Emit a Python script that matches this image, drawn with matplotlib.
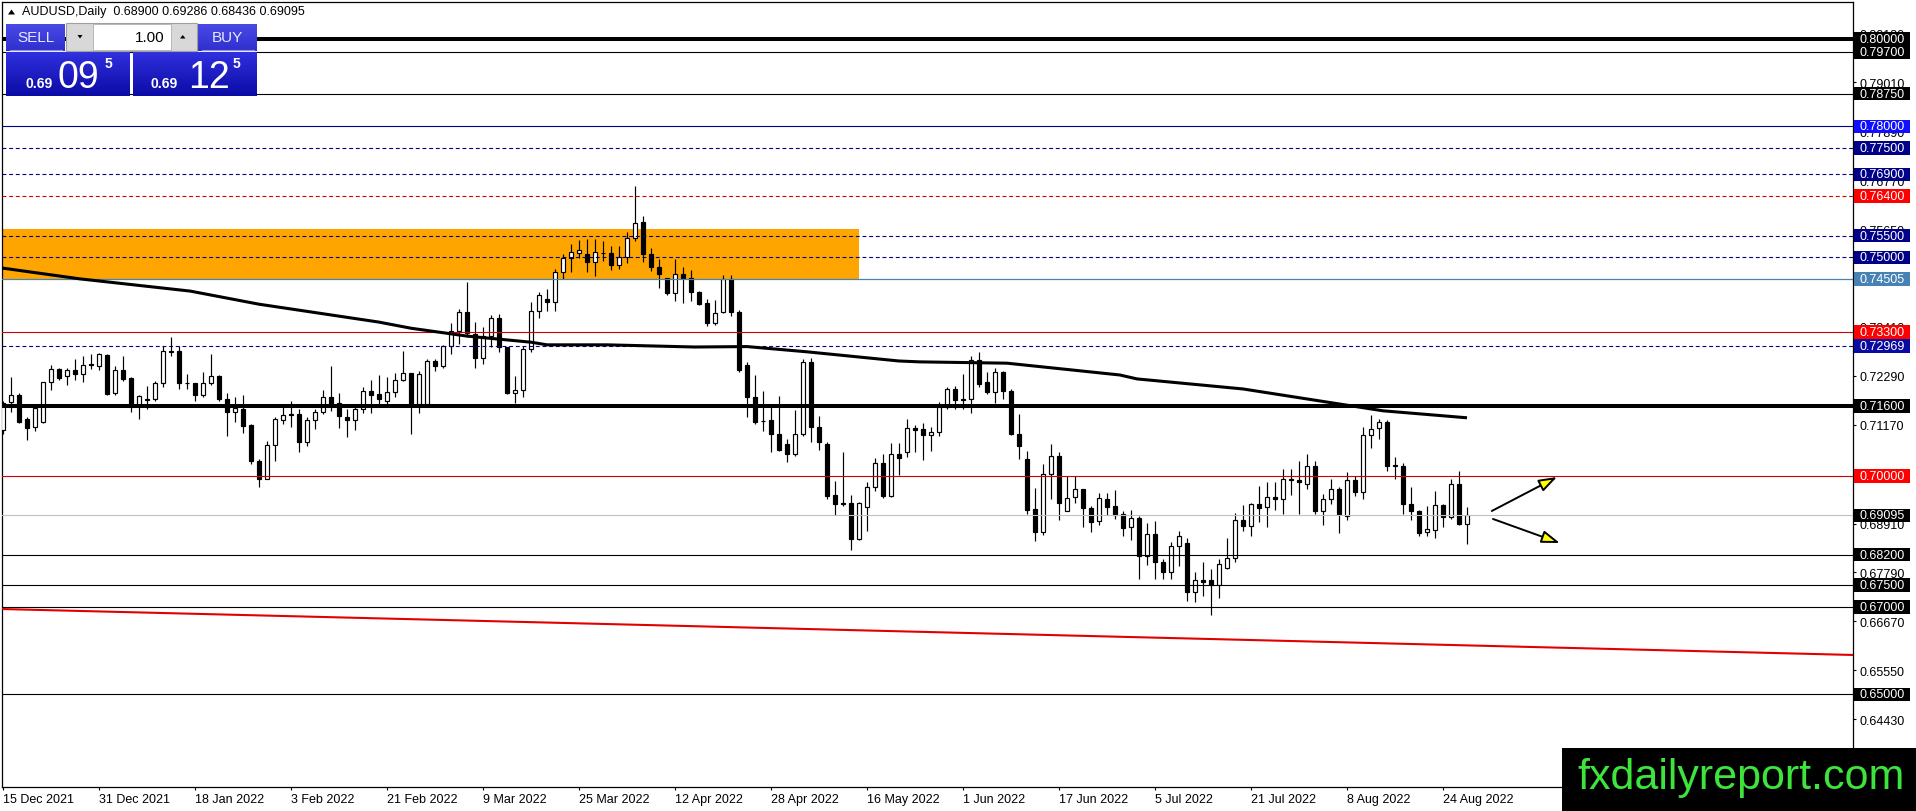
import matplotlib
matplotlib.use('Agg')
import matplotlib.pyplot as plt
import matplotlib.colors as mcolors
from matplotlib.patches import Rectangle, Polygon
from matplotlib.transforms import blended_transform_factory
import numpy as np

plt.rcParams['font.family'] = ['Liberation Sans', 'DejaVu Sans']

# ---------------- data ----------------
symbol_title = "AUDUSD,Daily  0.68900 0.69286 0.68436 0.69095"

opens = [0.7104, 0.7170, 0.7186, 0.7130, 0.7111, 0.7123, 0.7214, 0.7245, 0.7228, 0.7242,
         0.7233, 0.7254, 0.7252, 0.7277, 0.7189, 0.7242, 0.7224, 0.7162, 0.7176, 0.7175,
         0.7212, 0.7285, 0.7285, 0.7212, 0.7212, 0.7186, 0.7212, 0.7229, 0.7176, 0.7146,
         0.7153, 0.7116, 0.7035, 0.6993, 0.7071, 0.7129, 0.7140, 0.7141, 0.7077, 0.7128,
         0.7147, 0.7180, 0.7168, 0.7134, 0.7128, 0.7153, 0.7195, 0.7188, 0.7172, 0.7191,
         0.7219, 0.7235, 0.7165, 0.7165, 0.7262, 0.7252, 0.7298, 0.7332, 0.7374, 0.7325,
         0.7269, 0.7321, 0.7361, 0.7295, 0.7190, 0.7197, 0.7290, 0.7377, 0.7405, 0.7397,
         0.7466, 0.7498, 0.7511, 0.7508, 0.7490, 0.7511, 0.7510, 0.7483, 0.7502, 0.7545,
         0.7580, 0.7509, 0.7479, 0.7453, 0.7418, 0.7462, 0.7453, 0.7420, 0.7395, 0.7349,
         0.7374, 0.7451, 0.7374, 0.7254, 0.7180, 0.7126, 0.7128, 0.7097, 0.7072, 0.7049,
         0.7097, 0.7261, 0.7113, 0.7073, 0.6956, 0.6938, 0.6939, 0.6856, 0.6928, 0.6974,
         0.7029, 0.6955, 0.7049, 0.7054, 0.7109, 0.7107, 0.7094, 0.7100, 0.7157, 0.7199,
         0.7177, 0.7177, 0.7266, 0.7214, 0.7193, 0.7237, 0.7195, 0.7097, 0.7039, 0.6924,
         0.6872, 0.7004, 0.7045, 0.6920, 0.6951, 0.6970, 0.6926, 0.6897, 0.6946, 0.6930,
         0.6913, 0.6882, 0.6903, 0.6816, 0.6867, 0.6802, 0.6779, 0.6839, 0.6846, 0.6735,
         0.6762, 0.6761, 0.6750, 0.6789, 0.6811, 0.6898, 0.6886, 0.6936, 0.6928, 0.6951,
         0.6947, 0.6994, 0.6990, 0.6982, 0.7022, 0.6920, 0.6947, 0.6970, 0.6909, 0.6990,
         0.6964, 0.7093, 0.7109, 0.7123, 0.7025, 0.7022, 0.6936, 0.6920, 0.6872, 0.6877,
         0.6933, 0.6907, 0.6981, 0.68900]
highs = [0.7172, 0.7226, 0.7189, 0.7134, 0.7161, 0.7214, 0.7254, 0.7246, 0.7247, 0.7268,
         0.7274, 0.7278, 0.7281, 0.7278, 0.7252, 0.7275, 0.7226, 0.7185, 0.7206, 0.7218,
         0.7297, 0.7317, 0.7297, 0.7233, 0.7213, 0.7238, 0.7279, 0.7231, 0.7190, 0.7180,
         0.7185, 0.7118, 0.7039, 0.7081, 0.7134, 0.7161, 0.7171, 0.7154, 0.7134, 0.7153,
         0.7197, 0.7252, 0.7190, 0.7153, 0.7161, 0.7203, 0.7219, 0.7231, 0.7226, 0.7235,
         0.7285, 0.7235, 0.7239, 0.7268, 0.7268, 0.7300, 0.7349, 0.7382, 0.7443, 0.7352,
         0.7340, 0.7369, 0.7370, 0.7296, 0.7229, 0.7298, 0.7397, 0.7420, 0.7428, 0.7474,
         0.7509, 0.7531, 0.7540, 0.7542, 0.7542, 0.7538, 0.7527, 0.7527, 0.7558, 0.7664,
         0.7596, 0.7522, 0.7496, 0.7454, 0.7496, 0.7477, 0.7471, 0.7424, 0.7405, 0.7402,
         0.7460, 0.7460, 0.7380, 0.7260, 0.7231, 0.7195, 0.7157, 0.7184, 0.7084, 0.7151,
         0.7268, 0.7269, 0.7136, 0.7077, 0.6989, 0.7054, 0.6956, 0.6941, 0.6985, 0.7042,
         0.7050, 0.7075, 0.7075, 0.7130, 0.7116, 0.7121, 0.7113, 0.7170, 0.7204, 0.7205,
         0.7233, 0.7274, 0.7284, 0.7237, 0.7248, 0.7239, 0.7200, 0.7141, 0.7058, 0.6972,
         0.7027, 0.7073, 0.7054, 0.6999, 0.7000, 0.6971, 0.6932, 0.6961, 0.6961, 0.6968,
         0.6920, 0.6922, 0.6909, 0.6892, 0.6897, 0.6810, 0.6849, 0.6875, 0.6857, 0.6781,
         0.6804, 0.6788, 0.6810, 0.6857, 0.6915, 0.6933, 0.6938, 0.6978, 0.6985, 0.6985,
         0.7016, 0.7016, 0.7035, 0.7049, 0.7035, 0.6959, 0.6993, 0.6974, 0.7010, 0.6999,
         0.7111, 0.7139, 0.7130, 0.7129, 0.7044, 0.7030, 0.6974, 0.6922, 0.6932, 0.6966,
         0.6935, 0.6994, 0.7012, 0.69286]
lows = [0.7096, 0.7147, 0.7121, 0.7083, 0.7102, 0.7121, 0.7197, 0.7220, 0.7207, 0.7220,
        0.7216, 0.7245, 0.7243, 0.7186, 0.7186, 0.7218, 0.7147, 0.7130, 0.7153, 0.7172,
        0.7203, 0.7275, 0.7199, 0.7199, 0.7172, 0.7180, 0.7208, 0.7172, 0.7092, 0.7123,
        0.7098, 0.7027, 0.6974, 0.6992, 0.7035, 0.7119, 0.7111, 0.7054, 0.7068, 0.7107,
        0.7141, 0.7149, 0.7110, 0.7088, 0.7105, 0.7145, 0.7145, 0.7165, 0.7165, 0.7181,
        0.7218, 0.7097, 0.7143, 0.7163, 0.7241, 0.7247, 0.7279, 0.7302, 0.7317, 0.7247,
        0.7256, 0.7294, 0.7283, 0.7187, 0.7166, 0.7181, 0.7283, 0.7361, 0.7377, 0.7378,
        0.7451, 0.7467, 0.7499, 0.7466, 0.7458, 0.7493, 0.7471, 0.7474, 0.7487, 0.7537,
        0.7489, 0.7468, 0.7430, 0.7415, 0.7401, 0.7395, 0.7400, 0.7392, 0.7344, 0.7346,
        0.7372, 0.7367, 0.7237, 0.7135, 0.7119, 0.7103, 0.7055, 0.7058, 0.7032, 0.7045,
        0.7092, 0.7078, 0.7060, 0.6946, 0.6910, 0.6930, 0.6831, 0.6854, 0.6875, 0.6966,
        0.6949, 0.6951, 0.7003, 0.7043, 0.7055, 0.7037, 0.7058, 0.7091, 0.7153, 0.7152,
        0.7153, 0.7144, 0.7203, 0.7187, 0.7168, 0.7177, 0.7094, 0.7039, 0.6913, 0.6852,
        0.6865, 0.6946, 0.6900, 0.6920, 0.6938, 0.6882, 0.6871, 0.6888, 0.6910, 0.6901,
        0.6863, 0.6854, 0.6764, 0.6795, 0.6763, 0.6763, 0.6765, 0.6793, 0.6714, 0.6712,
        0.6726, 0.6682, 0.6720, 0.6787, 0.6804, 0.6875, 0.6862, 0.6894, 0.6882, 0.6923,
        0.6913, 0.6957, 0.6913, 0.6970, 0.6913, 0.6888, 0.6936, 0.6869, 0.6900, 0.6953,
        0.6947, 0.7063, 0.7084, 0.7012, 0.6993, 0.6913, 0.6900, 0.6862, 0.6863, 0.6859,
        0.6882, 0.6901, 0.6888, 0.68436]
closes = [0.7168, 0.7185, 0.7124, 0.7110, 0.7155, 0.7214, 0.7245, 0.7225, 0.7242, 0.7233,
          0.7254, 0.7255, 0.7280, 0.7188, 0.7242, 0.7222, 0.7162, 0.7182, 0.7173, 0.7213,
          0.7285, 0.7284, 0.7212, 0.7213, 0.7186, 0.7212, 0.7229, 0.7177, 0.7146, 0.7155,
          0.7115, 0.7033, 0.6993, 0.7071, 0.7130, 0.7139, 0.7141, 0.7077, 0.7129, 0.7147,
          0.7180, 0.7161, 0.7138, 0.7128, 0.7153, 0.7195, 0.7186, 0.7176, 0.7191, 0.7219,
          0.7235, 0.7165, 0.7233, 0.7262, 0.7252, 0.7298, 0.7332, 0.7374, 0.7327, 0.7269,
          0.7321, 0.7361, 0.7296, 0.7190, 0.7197, 0.7290, 0.7377, 0.7415, 0.7397, 0.7466,
          0.7499, 0.7512, 0.7517, 0.7489, 0.7512, 0.7510, 0.7483, 0.7502, 0.7545, 0.7578,
          0.7509, 0.7479, 0.7461, 0.7418, 0.7461, 0.7453, 0.7420, 0.7393, 0.7349, 0.7372,
          0.7451, 0.7374, 0.7242, 0.7180, 0.7124, 0.7125, 0.7097, 0.7060, 0.7049, 0.7097,
          0.7261, 0.7113, 0.7077, 0.6955, 0.6936, 0.6936, 0.6856, 0.6939, 0.6974, 0.7029,
          0.6955, 0.7049, 0.7041, 0.7109, 0.7106, 0.7094, 0.7100, 0.7157, 0.7199, 0.7174,
          0.7174, 0.7266, 0.7210, 0.7193, 0.7237, 0.7195, 0.7096, 0.7068, 0.6923, 0.6872,
          0.7004, 0.7045, 0.6937, 0.6949, 0.6969, 0.6926, 0.6895, 0.6949, 0.6928, 0.6910,
          0.6880, 0.6903, 0.6816, 0.6867, 0.6802, 0.6779, 0.6839, 0.6862, 0.6735, 0.6761,
          0.6758, 0.6750, 0.6798, 0.6812, 0.6898, 0.6886, 0.6936, 0.6927, 0.6951, 0.6947,
          0.6994, 0.6991, 0.6987, 0.7022, 0.6920, 0.6947, 0.6970, 0.6913, 0.6990, 0.6964,
          0.7094, 0.7107, 0.7124, 0.7023, 0.7022, 0.6936, 0.6919, 0.6869, 0.6878, 0.6933,
          0.6907, 0.6981, 0.6890, 0.69095]

date_labels = ["15 Dec 2021", "31 Dec 2021", "18 Jan 2022", "3 Feb 2022", "21 Feb 2022",
               "9 Mar 2022", "25 Mar 2022", "12 Apr 2022", "28 Apr 2022", "16 May 2022",
               "1 Jun 2022", "17 Jun 2022", "5 Jul 2022", "21 Jul 2022", "8 Aug 2022",
               "24 Aug 2022"]
date_bar_idx = [0, 12, 24, 36, 48, 60, 72, 84, 96, 108, 120, 132, 144, 156, 168, 180]

price_ticks = [0.80130, 0.79010, 0.77890, 0.76770, 0.75650, 0.74530, 0.73410, 0.72290,
               0.71170, 0.70050, 0.68910, 0.67790, 0.66670, 0.65550, 0.64430]

# moving average
ma_idx = [-0.2, 9.6, 23.4, 32, 47, 51, 58, 66, 68, 75.5, 86.5, 93, 100.5, 112, 114.6,
          125.5, 139.6, 141.75, 155, 165.5, 172.5, 183]
ma_val = [0.7476, 0.7451, 0.7423, 0.7393, 0.7352, 0.7338, 0.7320, 0.7306, 0.7300, 0.7300,
          0.7295, 0.7296, 0.7284, 0.7263, 0.7261, 0.7258, 0.7231, 0.7222, 0.7199, 0.7169,
          0.7149, 0.7133]

# red trend line
trend_idx = [-1, 232]
trend_val = [0.66957, 0.65898]

# horizontal levels
level_vals = [0.80000, 0.79700, 0.78750, 0.78000, 0.77500, 0.76900, 0.76400, 0.75500,
              0.75000, 0.74505, 0.73300, 0.72969, 0.71600, 0.70000, 0.69095, 0.68200,
              0.67500, 0.67000, 0.65000]
level_colors = ['black', 'black', 'black', '#00008B', '#000080', '#000080', '#D00000',
                '#000080', '#000080', '#4682B4', '#D00000', '#000080', 'black', '#D00000',
                '#C0C0C0', 'black', 'black', 'black', 'black']
level_styles = ['-', '-', '-', '-', '--', '--', '--', '--', '--', '-', '-', '--', '-', '-',
                '-', '-', '-', '-', '-']
level_widths = [2.9, 0.8, 0.8, 0.8, 0.8, 0.8, 0.8, 0.8, 0.8, 0.9, 0.8, 0.8, 2.9, 0.8, 0.8,
                0.8, 0.8, 0.8, 0.8]
label_bg = ['black', 'black', 'black', '#1010FF', '#000088', '#000088', '#FF0000', '#000088',
            '#000088', '#4682B4', '#FF0000', '#0A0AA0', 'black', '#FF0000', 'black', 'black',
            'black', 'black', 'black']

# supply zone rectangle
zone_idx = (-3, 107)
zone_price = (0.74505, 0.7565)

# arrows (start idx, start price, end idx, end price)
arrows = [(186.1, 0.69197, 194.25, 0.69975),
          (186.25, 0.69014, 194.6, 0.68464)]

# ---------------- figure ----------------
W, H = 1916, 812
fig = plt.figure(figsize=(W / 100, H / 100), dpi=100)
fig.patch.set_facecolor('white')

L, R, T, B = 2, 1853, 3, 788
AW, AH = R - L, B - T
ax = fig.add_axes([L / W, 1 - B / H, AW / W, AH / H])

px_per_bar = 8.0
first_x = 3.0
x0 = (L - first_x) / px_per_bar
x1 = (R - first_x) / px_per_bar
ppu = 4369.0
y_ref_px, p_ref = 40.0, 0.80000
ymin = p_ref - (B - y_ref_px) / ppu
ymax = p_ref + (y_ref_px - T) / ppu
ax.set_xlim(x0, x1)
ax.set_ylim(ymin, ymax)

o = np.array(opens); h = np.array(highs); l = np.array(lows); c = np.array(closes)
idx = np.arange(len(o))
up = c >= o

# zone
ax.add_patch(Rectangle((zone_idx[0], zone_price[0]), zone_idx[1] - zone_idx[0],
                       zone_price[1] - zone_price[0], facecolor='#FFA500',
                       edgecolor='none', zorder=1))

# candles
ax.vlines(idx, l, h, color='black', lw=0.85, zorder=3)
ax.bar(idx[up], (c - o)[up], bottom=o[up], width=0.5, facecolor='white',
       edgecolor='black', linewidth=0.85, zorder=3.2)
ax.bar(idx[~up], (c - o)[~up], bottom=o[~up], width=0.5, facecolor='black',
       edgecolor='black', linewidth=0.85, zorder=3.2)

# levels
for v, col, st, lw in zip(level_vals, level_colors, level_styles, level_widths):
    ls = (0, (3.5, 2.5)) if st == '--' else '-'
    ax.axhline(v, color=col, lw=lw, linestyle=ls, zorder=4)

# MA and trend line
ax.plot(ma_idx, ma_val, color='black', lw=2.2, zorder=4.5, solid_capstyle='butt')
ax.plot(trend_idx, trend_val, color='#E00000', lw=1.5, zorder=4.5)

# arrows
for (sx, sy, ex, ey) in arrows:
    ax.annotate('', xy=(ex, ey), xytext=(sx, sy),
                arrowprops=dict(arrowstyle='-|>,head_length=1.1,head_width=0.38',
                                fc='#FFFF00', ec='black', lw=1.4,
                                shrinkA=0, shrinkB=0), zorder=6)

# axes styling
for sp in ax.spines.values():
    sp.set_color('black')
    sp.set_linewidth(0.9)
ax.yaxis.tick_right()
ax.set_yticks(price_ticks)
ax.set_yticklabels([f"{v:.5f}" for v in price_ticks])
ax.set_xticks(date_bar_idx)
ax.set_xticklabels(date_labels, ha='left')
ax.tick_params(axis='y', direction='out', length=2.5, width=0.8, pad=2.2,
               labelsize=9, colors='black')
ax.tick_params(axis='x', direction='out', length=2.5, width=0.8, pad=1.6,
               labelsize=9, colors='black')

# price labels on the right
bt = blended_transform_factory(ax.transAxes, ax.transData)
hh = 6.8 * (ymax - ymin) / AH
for v, bg in zip(level_vals, label_bg):
    ax.add_patch(Rectangle((1 + 1.5 / AW, v - hh), 56 / AW, 2 * hh, transform=bt,
                           facecolor=bg, edgecolor='none', clip_on=False, zorder=20))
    ax.text(1 + 6 / AW, v, f"{v:.5f}", transform=bt, ha='left', va='center',
            fontsize=9, color='white', clip_on=False, zorder=21)

# ---------------- overlay (panel, title, watermark) ----------------
ov = fig.add_axes([0, 0, 1, 1], zorder=30)
ov.set_axis_off()


def grad(x_a, x_b, y_a, y_b, c_top, c_bot, z=1):
    t = np.linspace(0, 1, 64)[:, None, None]
    top = np.array(mcolors.to_rgb(c_top))[None, None, :]
    bot = np.array(mcolors.to_rgb(c_bot))[None, None, :]
    arr = top * (1 - t) + bot * t
    ov.imshow(arr, extent=(x_a, x_b, y_b, y_a), aspect='auto',
              interpolation='bilinear', zorder=z)


# title
ov.add_patch(Polygon([(8, 15.5), (15, 15.5), (11.5, 10.5)], closed=True,
                     facecolor='black', edgecolor='none'))
ov.text(22, 12.5, symbol_title, fontsize=9, ha='left', va='center', color='black')

# sell / buy buttons
grad(6, 65, 25, 52, '#4a4ae6', '#2f2fcf')
grad(198, 257, 25, 52, '#4a4ae6', '#2f2fcf')
ov.plot([10, 62], [51, 51], color='#8c8cff', lw=0.8, zorder=2)
ov.plot([202, 254], [51, 51], color='#8c8cff', lw=0.8, zorder=2)
ov.text(35.5, 38.5, 'SELL', fontsize=11, color='#e8e8ff', ha='center', va='center', zorder=3)
ov.text(227.5, 38.5, 'BUY', fontsize=11, color='#e8e8ff', ha='center', va='center', zorder=3)

# lot spinner
ov.add_patch(Rectangle((66, 24), 131, 28, facecolor='#d8d8d8', edgecolor='#a0a0a0',
                       lw=0.8, zorder=2))
ov.add_patch(Rectangle((93, 25), 78, 26, facecolor='white', edgecolor='#b0b0b0',
                       lw=0.6, zorder=2.5))
ov.add_patch(Polygon([(77.5, 36), (82.5, 36), (80, 39.5)], closed=True,
                     facecolor='black', zorder=3))
ov.add_patch(Polygon([(180, 39.5), (185.5, 39.5), (182.75, 36)], closed=True,
                     facecolor='black', zorder=3))
ov.text(165, 38, '1.00', fontsize=11, color='black', ha='right', va='center', zorder=3)

# price boxes
grad(6, 130, 53, 97, '#3030de', '#0b0ba6')
grad(133, 257, 53, 97, '#3030de', '#0b0ba6')
for (sx, bx, sup) in [(39, 59, 108), (164, 189, 236)]:
    pass
ov.text(39, 88, '0.69', fontsize=10, fontweight='bold', color='white', ha='center',
        va='baseline', zorder=3)
ov.text(58, 88, '09', fontsize=27, color='white', ha='left', va='baseline', zorder=3)
ov.text(108, 68, '5', fontsize=10, fontweight='bold', color='white', ha='center',
        va='baseline', zorder=3)
ov.text(164, 88, '0.69', fontsize=10, fontweight='bold', color='white', ha='center',
        va='baseline', zorder=3)
ov.text(188, 88, '12', fontsize=27, color='white', ha='left', va='baseline', zorder=3)
ov.text(236, 68, '5', fontsize=10, fontweight='bold', color='white', ha='center',
        va='baseline', zorder=3)

# watermark
ov.add_patch(Rectangle((1562, 749), W - 1562, H - 749, facecolor='black',
                       edgecolor='none', zorder=2))
ov.text(1577, 789, 'fxdailyreport.com', fontsize=31, color='#3CE43C', ha='left',
        va='baseline', zorder=3)

ov.set_xlim(0, W)
ov.set_ylim(H, 0)

fig.savefig('out.png', dpi=100, facecolor='white')
